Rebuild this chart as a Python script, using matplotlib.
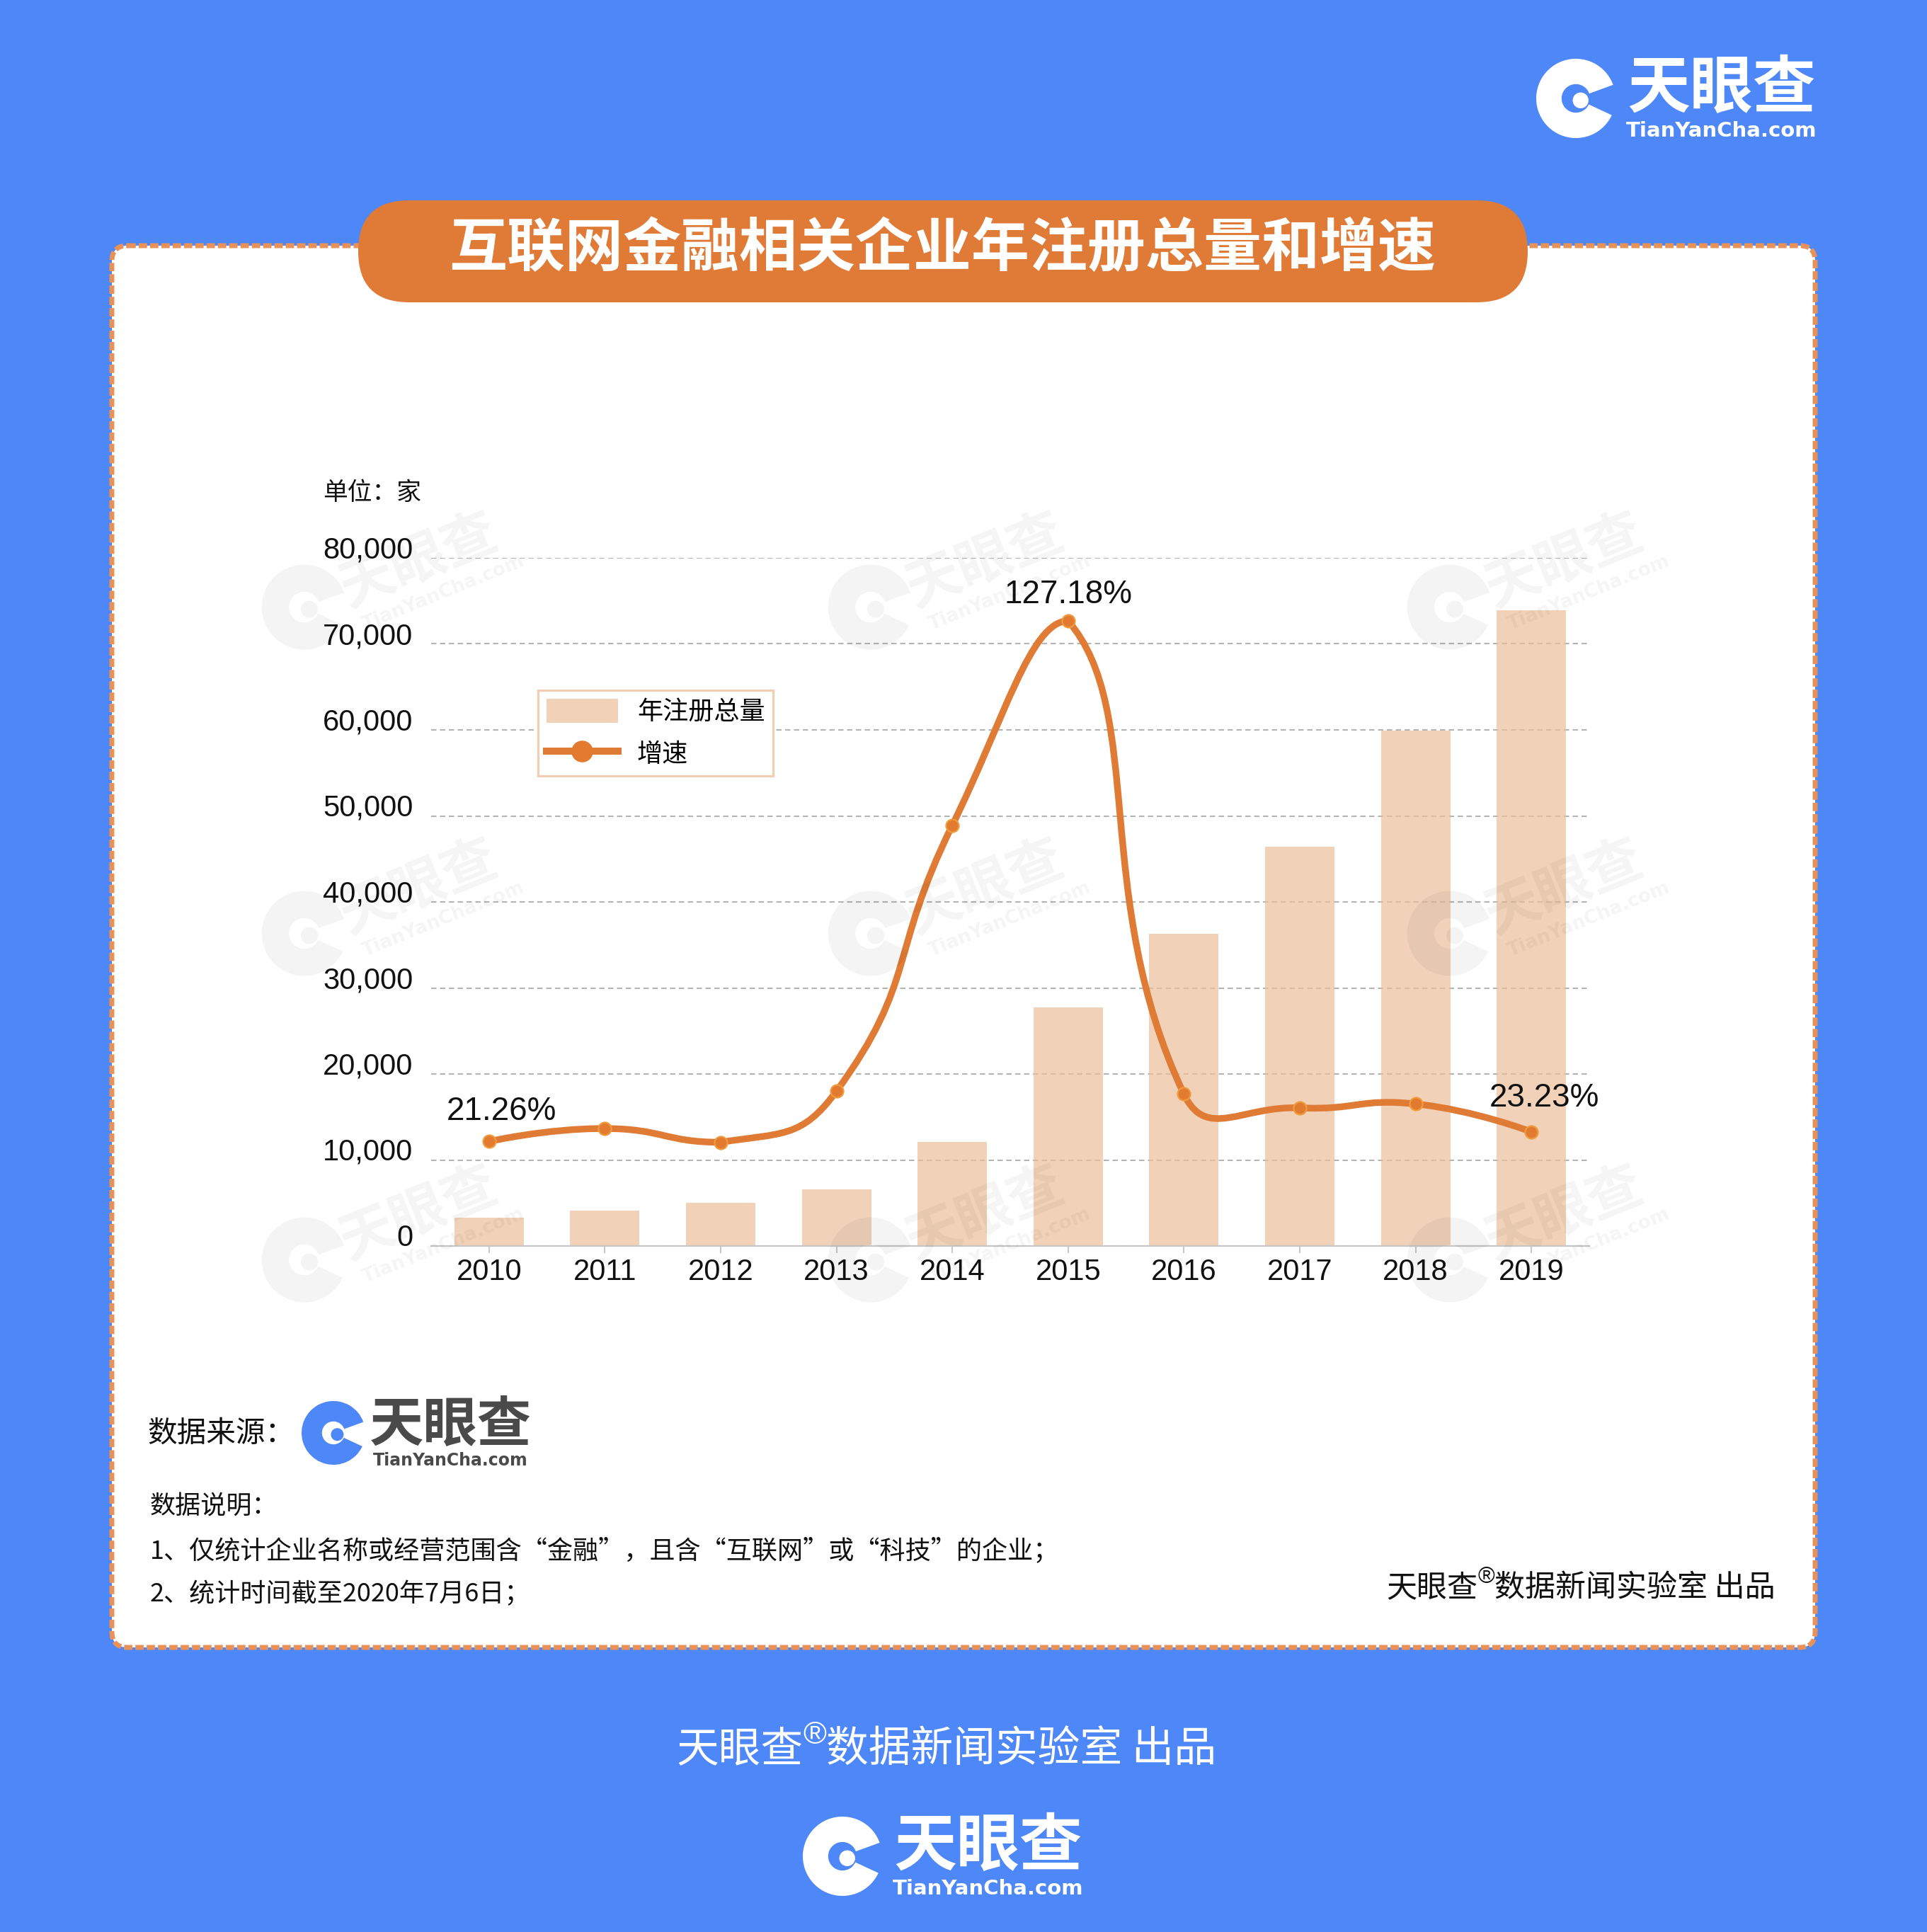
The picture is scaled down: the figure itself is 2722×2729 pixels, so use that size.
import numpy as np
import matplotlib
matplotlib.use('Agg')
import matplotlib.pyplot as plt
import matplotlib.transforms as mtransforms
from matplotlib.path import Path
from matplotlib.patches import PathPatch, FancyBboxPatch, Circle, Wedge
from matplotlib.lines import Line2D
from matplotlib.font_manager import FontProperties

# data
years = ['2010', '2011', '2012', '2013', '2014', '2015', '2016', '2017', '2018', '2019']
totals = [3300, 4100, 5000, 6550, 12100, 27700, 36300, 46450, 59900, 73950]
growth = [21.26, 23.9, 21.1, 31.5, 85.6, 127.18, 30.9, 28.1, 28.9, 23.23]
series_names = ['年注册总量', '增速']
yticks = [0, 10000, 20000, 30000, 40000, 50000, 60000, 70000, 80000]
title = '互联网金融相关企业年注册总量和增速'
unit = '单位：家'
notes = ['数据说明：',
         '1、仅统计企业名称或经营范围含“金融”，且含“互联网”或“科技”的企业；',
         '2、统计时间截至2020年7月6日；']

CJK = ['Noto Sans CJK SC', 'DejaVu Sans']
NUM = ['Liberation Sans', 'Noto Sans CJK SC', 'DejaVu Sans']
plt.rcParams['font.family'] = NUM

BLUE = '#4E87F8'
ORANGE = '#DF7B37'
LINE = '#E07B35'
BAR = '#ECC09B'
GRID = '#B4B4B4'
AXIS = '#C6C6C6'

W, H = 2722, 2729
fig = plt.figure(figsize=(W / 100, H / 100), dpi=100)
fig.patch.set_facecolor(BLUE)


def px(x0, y0, x1, y1):
    return [x0 / W, 1 - y1 / H, (x1 - x0) / W, (y1 - y0) / H]


bg = fig.add_axes([0, 0, 1, 1])
bg.set_xlim(0, W)
bg.set_ylim(H, 0)
bg.axis('off')

# white card with dashed orange border, title pill
bg.add_patch(FancyBboxPatch((158, 347), 2406, 1980, boxstyle='round,pad=0,rounding_size=22',
                            fc='white', ec='#E8925A', lw=5.0, ls=(0, (1.7, 0.6))))
bg.add_patch(FancyBboxPatch((506, 283), 1652, 144, boxstyle='round,pad=0,rounding_size=72',
                            fc=ORANGE, ec='none'))
bg.text(1331, 352, title, color='white', fontsize=59, fontweight='bold', family=CJK,
        ha='center', va='center')


def logo_icon(a, cx, cy, r, color, alpha=1.0, z=3):
    a.add_patch(Wedge((cx, cy), r, 25, 340, width=0.64 * r, fc=color, ec='none', alpha=alpha, zorder=z))
    a.add_patch(Circle((cx + 0.12 * r, cy + 0.05 * r), 0.2 * r, fc=color, ec='none', alpha=alpha, zorder=z))


def logo(a, cx, cy, r, color, big, small, dy=59):
    logo_icon(a, cx - 206, cy + 13, r, color)
    a.text(cx, cy, '天眼查', fontsize=big, fontweight='bold', family=CJK, color=color,
           ha='center', va='center')
    a.text(cx, cy + dy, 'TianYanCha.com', fontsize=small, fontweight='bold', family=['DejaVu Sans'],
           color=color, ha='center', va='center')


logo(bg, 2432, 126, 56, 'white', 64, 21)
logo(bg, 1396, 2609, 56, 'white', 64, 21)

# chart
ax = fig.add_axes(px(609, 788, 2245, 1760))
ax.set_facecolor('none')
xs = np.arange(len(years))
bars = ax.bar(xs, totals, width=0.6, color=BAR, alpha=0.7, zorder=2)
ax.set_xlim(-0.5, len(years) - 0.5)
ax.set_ylim(0, 80000)
ax.set_axisbelow(True)
ax.yaxis.grid(True, color=GRID, lw=1.5, ls=(0, (3.6, 2.4)))
for s in ['top', 'right', 'left']:
    ax.spines[s].set_visible(False)
ax.spines['bottom'].set_color(AXIS)
ax.spines['bottom'].set_linewidth(1.6)
ax.spines['bottom'].set_zorder(3)
ax.set_yticks(yticks)
ax.set_yticklabels([f'{v:,}' for v in yticks])
ax.set_xticks(xs)
ax.set_xticklabels(years)
ax.tick_params(axis='y', length=0, pad=18.5, labelsize=30, labelcolor='#111111')
ax.tick_params(axis='x', length=7.2, width=1.4, color=AXIS, pad=5, labelsize=30, labelcolor='#111111')
shift = mtransforms.ScaledTranslation(0, 0.15, fig.dpi_scale_trans)
for lab in ax.get_yticklabels():
    lab.set_transform(lab.get_transform() + shift)

ax2 = ax.twinx()
ax2.set_ylim(0, 140)
ax2.set_xlim(ax.get_xlim())
ax2.axis('off')


def echarts_smooth(pts, smooth=0.5):
    # bezier smoothing with control points kept inside the points' bounding box
    lo, hi = pts.min(axis=0), pts.max(axis=0)
    verts = [pts[0]]
    codes = [Path.MOVETO]
    cp0 = pts[0].copy()
    n = len(pts)
    for i in range(1, n):
        p = pts[i]
        if i == n - 1:
            cp1 = p.copy()
            nxt = None
        else:
            v = pts[i + 1] - pts[i - 1]
            d0 = np.hypot(*(p - pts[i - 1]))
            d1 = np.hypot(*(pts[i + 1] - p))
            r = d1 / (d0 + d1)
            cp1 = np.clip(p - v * smooth * (1 - r), lo, hi)
            nxt = np.clip(p + v * smooth * r, lo, hi)
        verts += [cp0, cp1, p]
        codes += [Path.CURVE4] * 3
        cp0 = nxt
    return np.array(verts), codes


pts = ax2.transData.transform(np.column_stack([xs, growth]))
verts, codes = echarts_smooth(pts)
verts = ax2.transData.inverted().transform(verts)
ax2.add_patch(PathPatch(Path(verts, codes), fc='none', ec=LINE, lw=6.8,
                        capstyle='round', joinstyle='round', zorder=4))
ax2.plot(xs, growth, ls='none', marker='o', ms=13, mfc='#E27A30', mec='#EE9C3E', mew=1.6, zorder=5)

label_offsets = {0: (18, 42), 5: (0, 37), 9: (18, 48)}
for i, (dx, dy) in label_offsets.items():
    ax2.annotate(f'{growth[i]:.2f}%', xy=(xs[i], growth[i]), xytext=(dx, dy), textcoords='offset pixels',
                 ha='center', va='center', fontsize=33, color='#111111', zorder=6)

leg_line = Line2D([], [], color=LINE, lw=7.2, marker='o', ms=21, mfc='#E27A30', mec='#E27A30')
leg = fig.legend(handles=[bars, leg_line], labels=series_names, loc='upper left',
                 bbox_to_anchor=(760 / W, 1 - 975 / H), bbox_transform=fig.transFigure,
                 prop=FontProperties(family=CJK, size=26), frameon=True, fancybox=False,
                 edgecolor='#F2CDB0', facecolor='white', framealpha=1, borderaxespad=0,
                 handlelength=2.8, handleheight=1.1, handletextpad=0.75, labelspacing=0.62,
                 borderpad=0.32)
leg.get_frame().set_linewidth(2.2)

bg.text(456, 696, unit, fontsize=25, family=CJK, color='#111111', ha='left', va='center')

# source and notes
bg.text(208, 2025, '数据来源：', fontsize=30, family=CJK, color='#111111', ha='left', va='center')
logo_icon(bg, 471, 2024, 45, BLUE)
bg.text(636, 2013, '天眼查', fontsize=55, fontweight='bold', family=CJK, color='#4A4A4A',
        ha='center', va='center')
bg.text(636, 2063, 'TianYanCha.com', fontsize=17, fontweight='bold', family=['DejaVu Sans'],
        color='#4A4A4A', ha='center', va='center')
for txt, y in zip(notes, [2128, 2191, 2252]):
    bg.text(212, y, txt, fontsize=26, family=CJK, color='#111111', ha='left', va='center')


def credit(a, x, y, size, color):
    t1 = a.text(x, y, '天眼查', fontsize=size, family=CJK, color=color, ha='left', va='center')
    t2 = a.annotate('®', xy=(1, 0.5), xycoords=t1, fontsize=size * 0.75, family=NUM, color=color,
                    ha='left', va='bottom')
    a.annotate('数据新闻实验室 出品', xy=(1, 0), xycoords=(t2, t1), fontsize=size, family=CJK,
               color=color, ha='left', va='bottom')


credit(bg, 1958, 2243, 31, '#111111')
credit(bg, 955, 2472, 43, 'white')

# watermarks
wm = fig.add_axes([0, 0, 1, 1])
wm.set_xlim(0, W)
wm.set_ylim(H, 0)
wm.axis('off')
th = np.deg2rad(22)
for cx in [592, 1392, 2210]:
    for cy in [792, 1253, 1714]:
        for dx, dy, kind in [(-175, 0, 'icon'), (0, 0, 'cn'), (15, 55, 'en')]:
            x = cx + dx * np.cos(th) + dy * np.sin(th)
            y = cy - dx * np.sin(th) + dy * np.cos(th)
            if kind == 'icon':
                logo_icon(wm, x, y, 60, 'black', alpha=0.045, z=1)
            elif kind == 'cn':
                wm.text(x, y, '天眼查', fontsize=56, fontweight='bold', family=CJK, color='black',
                        alpha=0.045, rotation=22, ha='center', va='center', rotation_mode='anchor')
            else:
                wm.text(x, y, 'TianYanCha.com', fontsize=19, fontweight='bold', family=['DejaVu Sans'],
                        color='black', alpha=0.045, rotation=22, ha='center', va='center',
                        rotation_mode='anchor')

fig.savefig('out.png', dpi=100, facecolor=fig.get_facecolor())
